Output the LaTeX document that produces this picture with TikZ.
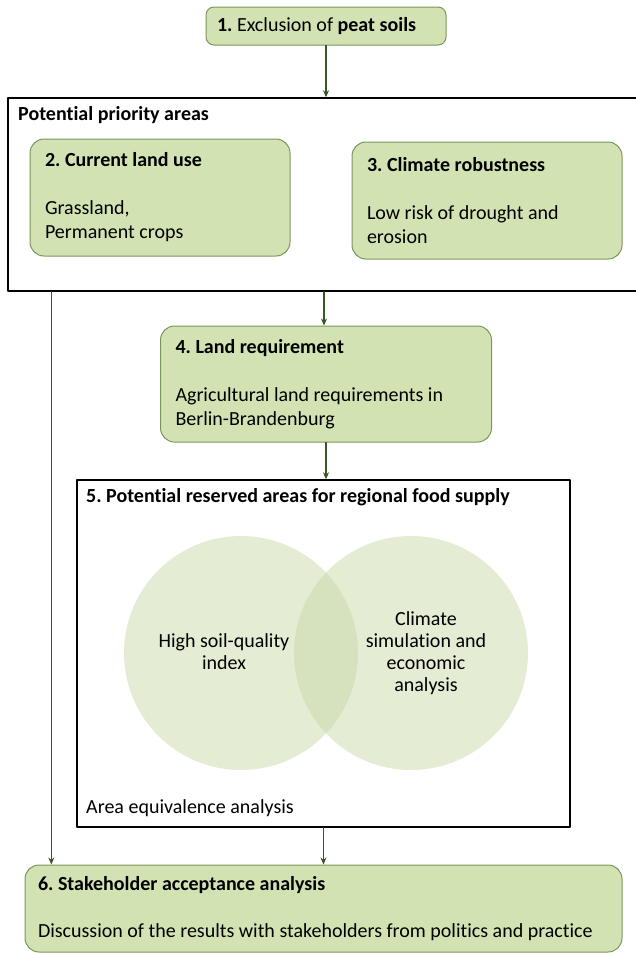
\documentclass[tikz,border=0pt]{standalone}
\usepackage{fontspec}
\setmainfont{Carlito}[Ligatures=CommonOff]
\usetikzlibrary{arrows.meta}
\definecolor{boxgreen}{RGB}{211,226,179}
\definecolor{edgegreen}{RGB}{122,150,90}
\definecolor{arrgreen}{RGB}{56,87,35}
\definecolor{venngreen}{RGB}{199,215,165}
\frenchspacing
\begin{document}
\begin{tikzpicture}[x=1pt,y=-1pt, line join=round, line cap=round,font=\fontsize{20}{24}\selectfont,>={Stealth[length=7pt,width=6pt]},
	stepbox/.style={draw=edgegreen, fill=boxgreen, line width=1pt, rounded corners=14pt, align=left, inner xsep=15pt, inner ysep=0pt,
		execute at begin node={\spaceskip=0pt\xspaceskip=0pt\hyphenpenalty=10000\relax}},
	framebox/.style={draw=black, line width=1.4pt, inner sep=0pt},
	lbl/.style={anchor=west, inner sep=0pt},
	arr/.style={->, draw=arrgreen, line width=1.2pt}]
	\useasboundingbox (0,0) rectangle (636,953);
	\node[stepbox, rounded corners=8pt, inner xsep=11pt, text width=218pt, minimum height=38pt] (b1) at (326,26) {\textbf{1.} Exclusion of \textbf{peat soils}};
	\node[framebox, minimum width=632pt, minimum height=193pt] (prio) at (324,194.5) {};
	\node[lbl, font=\fontsize{20}{24}\selectfont\bfseries] (prioL) at (18,115) {Potential priority areas};
	\node[stepbox, text width=230pt, minimum height=117pt] (b2) at (160,197.5) {\textbf{2. Current land use}\\[24pt]Grassland,\\Permanent crops};
	\node[stepbox, text width=240pt, minimum height=117pt] (b3) at (487,200.5) {\textbf{3. Climate robustness}\\[24pt]Low risk of drought and\\erosion};
	\node[stepbox, text width=301pt, minimum height=116pt] (b4) at (326,384) {\textbf{4. Land requirement}\\[24pt]Agricultural land requirements in\\Berlin-Brandenburg};
	\node[framebox, minimum width=493pt, minimum height=347pt] (supply) at (323.5,653.5) {};
	\node[lbl, font=\fontsize{20}{24}\selectfont\bfseries] (supplyL) at (86,497) {5. Potential reserved areas for regional food supply};
	\node[circle, minimum size=234pt, fill=venngreen, fill opacity=0.48] (soil) at (241,653) {};
	\node[circle, minimum size=234pt, fill=venngreen, fill opacity=0.48] (clim) at (411,653) {};
	\node[align=center, font=\fontsize{20}{22}\selectfont] (soilT) at (224,652) {High soil-quality\\index};
	\node[align=center, font=\fontsize{20}{22}\selectfont] (climT) at (426,653) {Climate\\simulation and\\economic\\analysis};
	\node[lbl] (equiv) at (86,808) {Area equivalence analysis};
	\node[stepbox, inner xsep=13pt, text width=571pt, minimum height=87pt] (b6) at (323.5,908.5) {\textbf{6. Stakeholder acceptance analysis}\\[23pt]Discussion of the results with stakeholders from politics and practice};
	\draw[arr] (b1.south) -- (b1.south |- prio.north);
	\draw[arr] (prio.south) -- (prio.south |- b4.north);
	\draw[arr] (b4.south) -- (b4.south |- supply.north);
	\draw[arr] (supply.south) -- (supply.south |- b6.north);
	\draw[arr] ([xshift=44pt]prio.south west) -- ([xshift=44pt]prio.south west |- b6.north);
\end{tikzpicture}
\end{document}
